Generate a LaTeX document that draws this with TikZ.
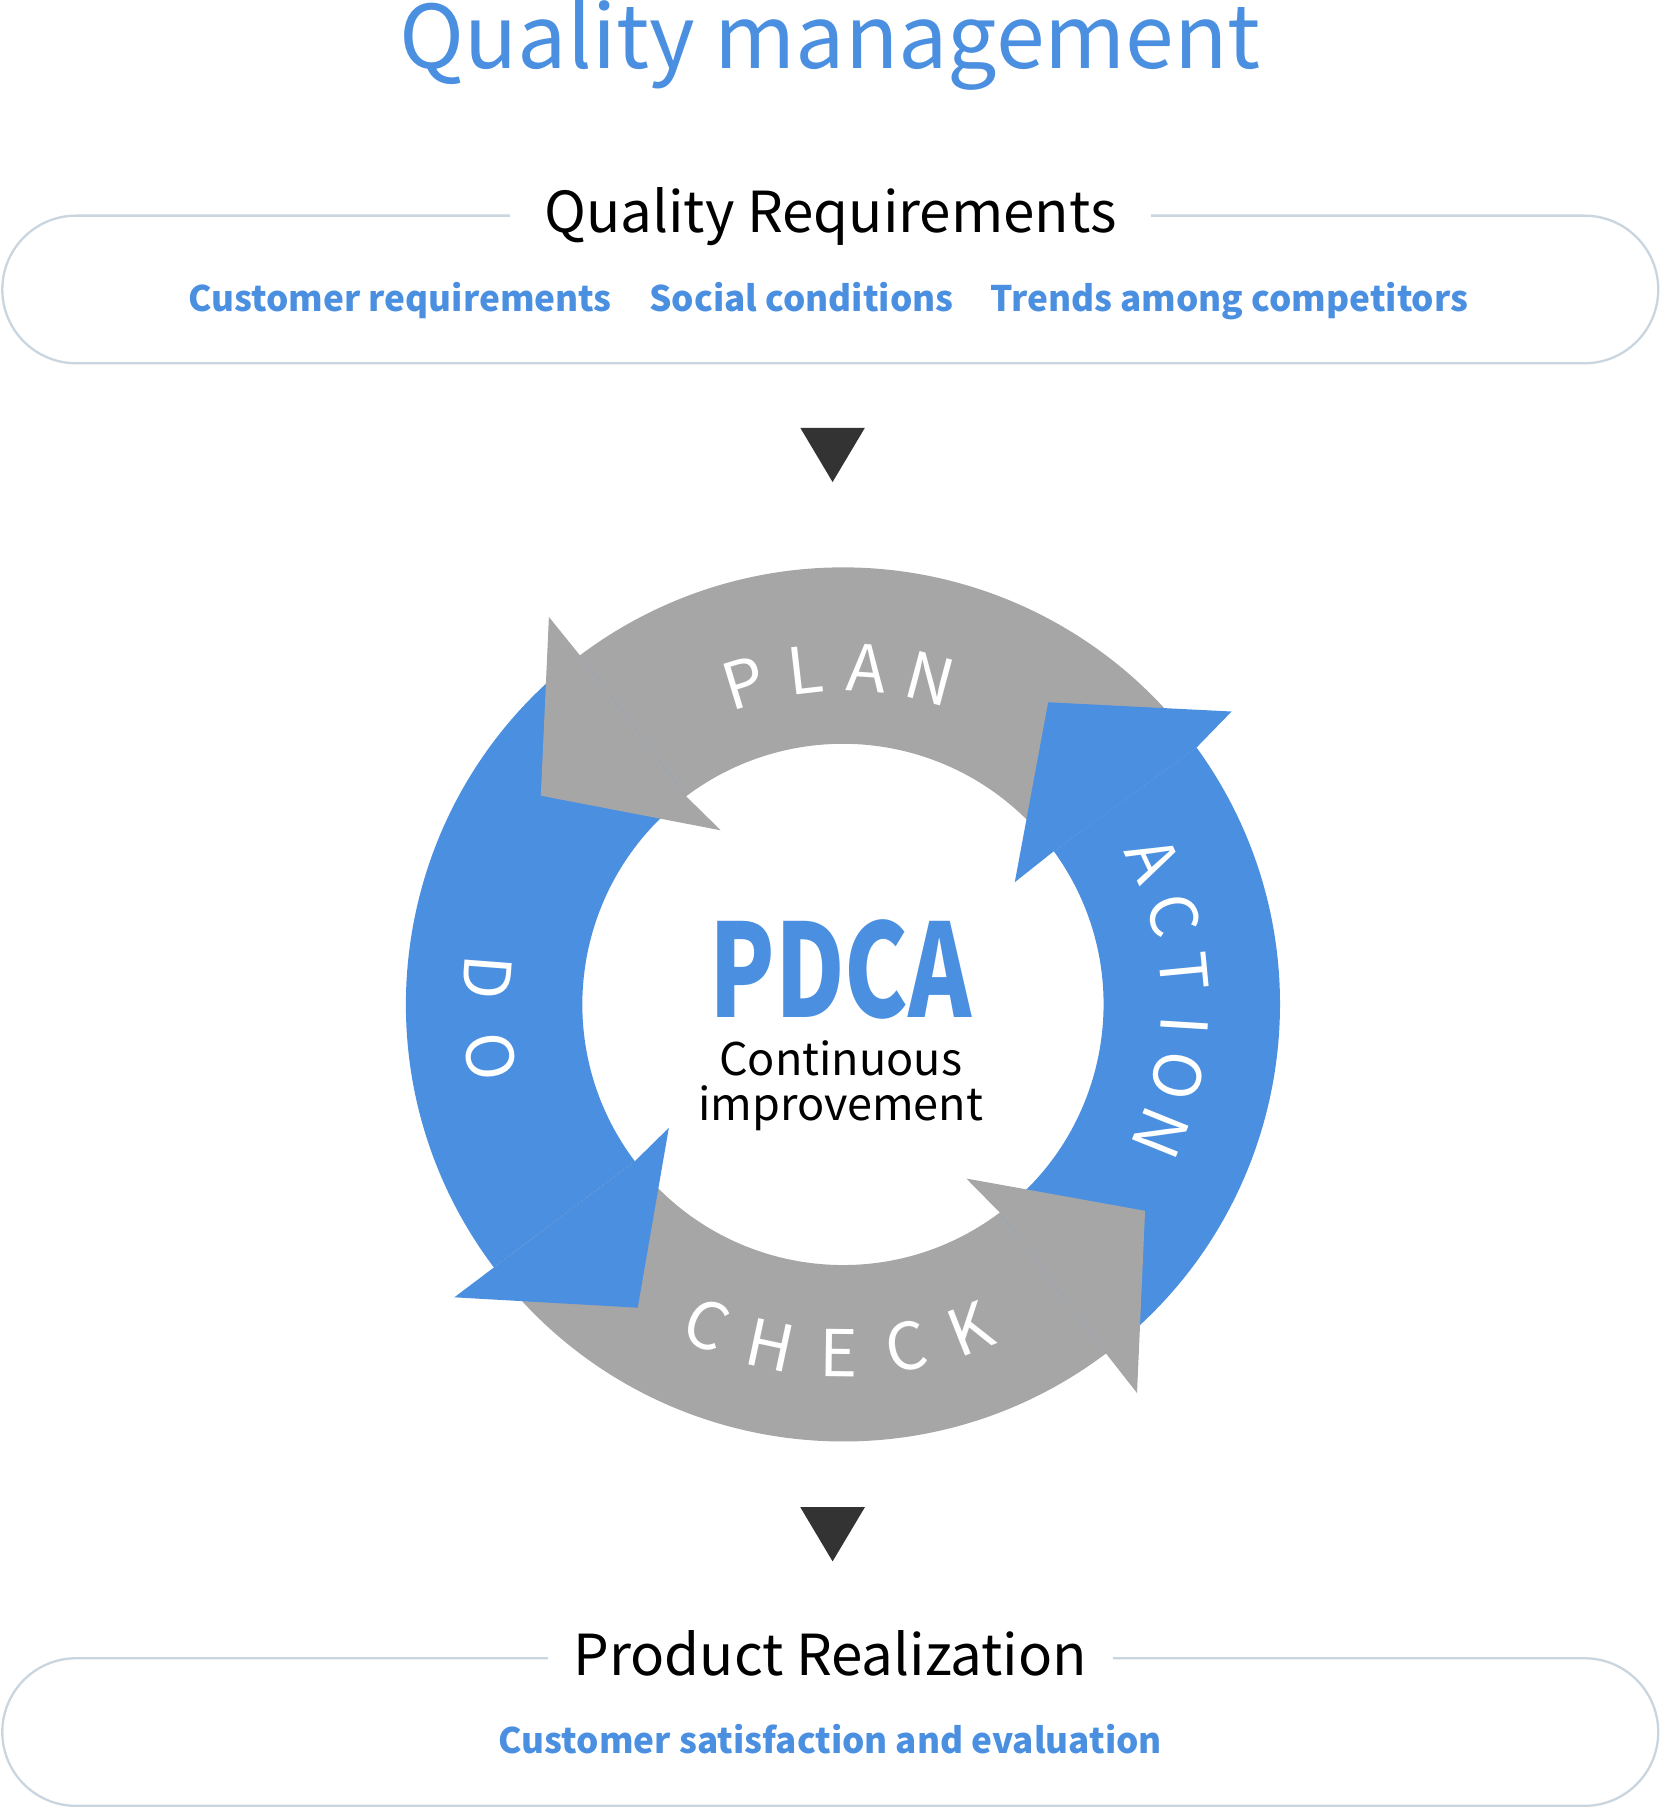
\documentclass[tikz,border=0pt]{standalone}
\usepackage{fontspec}
\setmainfont{Noto Sans CJK JP}
\usetikzlibrary{calc}
\definecolor{qblue}{HTML}{4A8FE0}
\definecolor{qgrey}{HTML}{A6A6A6}
\definecolor{qline}{HTML}{C9D5DF}
\definecolor{qdark}{HTML}{333333}
\tikzset{
  fs/.style={font=\fontsize{#1}{#1}\selectfont},
  boxline/.style={draw=qline,line width=2pt,rounded corners=64pt},
  head/.style={fill=white,inner xsep=30pt,inner ysep=0pt,anchor=base,fs=49,text=black},
  sub/.style={anchor=base,text=qblue,font=\fontsize{30.5}{30.5}\selectfont\bfseries},
  ringletter/.style={text=white,inner sep=0pt,font=\fontsize{56}{56}\selectfont}
}
\begin{document}
\begin{tikzpicture}[x=1pt,y=1pt]
\useasboundingbox (0,0) rectangle (1440,-1567);
\node[anchor=base,text=qblue,font=\fontsize{76}{76}\selectfont] (title) at (720,-59) {Quality management};
\draw[boxline] (2,-187) rectangle (1438,-315);
\node[head] (qr) at (720,-202) {Quality Requirements};
\node[sub] (s1) at (347,-270) {Customer requirements};
\node[sub] (s2) at (695,-270) {Social conditions};
\node[sub] (s3) at (1066,-270) {Trends among competitors};
\fill[qdark] (694,-371) -- (750,-371) -- (722,-418) -- cycle;
\fill[qdark] (694,-1307) -- (750,-1307) -- (722,-1354) -- cycle;
\coordinate (C) at (731,-871);
\def\Ro{379}\def\Ri{226}
\fill[qgrey] ($(C)+(36:\Ro)$) arc[start angle=36,end angle=127,radius=\Ro] -- ($(C)+(127:\Ri)$) arc[start angle=127,end angle=36,radius=\Ri] -- cycle;
\fill[qblue] ($(C)+(127:\Ro)$) arc[start angle=127,end angle=217,radius=\Ro] -- ($(C)+(217:\Ri)$) arc[start angle=217,end angle=127,radius=\Ri] -- cycle;
\fill[qgrey] ($(C)+(217:\Ro)$) arc[start angle=217,end angle=307,radius=\Ro] -- ($(C)+(307:\Ri)$) arc[start angle=307,end angle=217,radius=\Ri] -- cycle;
\fill[qblue] ($(C)+(-53:\Ro)$) arc[start angle=-53,end angle=36,radius=\Ro] -- ($(C)+(36:\Ri)$) arc[start angle=36,end angle=-53,radius=\Ri] -- cycle;
\fill[qgrey] ($(C)+(127:\Ro)$) -- (476,-535) -- (469,-690) -- (625,-720) -- ($(C)+(127:\Ri)$) -- cycle;
\fill[qblue] ($(C)+(217:\Ri)$) -- (580,-978) -- (553,-1134) -- (394,-1125) -- ($(C)+(217:\Ro)$) -- cycle;
\fill[qgrey] ($(C)+(-53:\Ri)$) -- (838,-1022) -- (993,-1050) -- (986,-1208) -- ($(C)+(-53:\Ro)$) -- cycle;
\fill[qblue] ($(C)+(36:\Ro)$) -- (1068,-617) -- (909,-609) -- (880,-765) -- ($(C)+(36:\Ri)$) -- cycle;
\foreach \a/\l [count=\i] in {107/P,96.5/L,86/A,75/N}
  \node[ringletter,rotate=\a-90] (p\i) at ($(C)+(\a:292)$) {\l};
\foreach \a/\l [count=\i] in {25/A,15/C,5.5/T,-3.5/I,-12/O,-22/N}
  \node[ringletter,rotate=\a-90] (a\i) at ($(C)+(\a:297)$) {\l};
\foreach \a/\l [count=\i] in {175.6/D,188.5/O}
  \node[ringletter,rotate=\a+90] (d\i) at ($(C)+(\a:309)$) {\l};
\foreach \a/\l [count=\i] in {247/C,258/H,269.3/E,280.5/C,291.5/K}
  \node[ringletter,rotate=\a+90] (c\i) at ($(C)+(\a:302)$) {\l};
\node[anchor=base,text=qblue,xscale=0.74,font=\fontsize{112}{112}\selectfont\bfseries] (pdca) at (729,-882) {PDCA};
\node[anchor=base,fs=39] (ci1) at (729,-933) {Continuous};
\node[anchor=base,fs=39] (ci2) at (729,-972) {improvement};
\draw[boxline] (2,-1438) rectangle (1438,-1566);
\node[head,inner xsep=22pt] (pr) at (720,-1453) {Product Realization};
\node[sub] (s4) at (720,-1521) {Customer satisfaction and evaluation};
\end{tikzpicture}
\end{document}
